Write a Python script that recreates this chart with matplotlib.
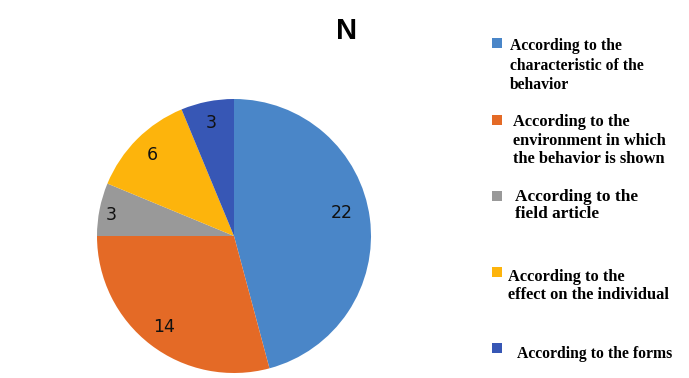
import matplotlib
matplotlib.use("Agg")
import matplotlib.pyplot as plt
from matplotlib.patches import Rectangle

# data
categories = [
    "According to the\ncharacteristic of the\nbehavior",
    "According to the\nenvironment in which\nthe behavior is shown",
    "According to the\nfield article",
    "According to the\neffect on the individual",
    "According to the forms",
]
counts = [22, 14, 3, 6, 3]
colors = ["#4a86c8", "#e46a26", "#999999", "#fdb40c", "#3757b5"]

W, H = 689, 378
fig = plt.figure(figsize=(W / 100, H / 100), dpi=100)

# pie: centre (234, 236) px, radius 137 px
cx, cy, r = 234, 236, 137
ax = fig.add_axes([(cx - r) / W, (H - cy - r) / H, 2 * r / W, 2 * r / H])
wedges, texts, autotexts = ax.pie(
    counts, colors=colors, startangle=90, counterclock=False,
    autopct=lambda p: "{:.0f}".format(p * sum(counts) / 100),
    pctdistance=0.84, wedgeprops=dict(linewidth=0),
    textprops=dict(fontsize=12.5, family="DejaVu Sans", color="#111111"))
autotexts[0].set_position((0.79, 0.17))
autotexts[2].set_position((-0.9, 0.15))
ax.set_xlim(-1, 1)
ax.set_ylim(-1, 1)
ax.axis("off")

fig.text(347 / W, 1 - 31 / H, "N", fontsize=21, fontweight="bold",
         family="Liberation Sans", ha="center", va="center")

# legend laid out by hand (irregular spacing and sizes in the original)
marker_y = [43, 120, 196, 272, 348]
text_x = [510, 513, 515, 508, 517]
text_y = [44, 120, 195, 275, 352]
sizes = [11.3, 11.8, 12.4, 11.8, 11.3]
spacing = [1.28, 1.22, 1.12, 1.17, 1.15]
for c, lab, my, tx, ty, fs, ls in zip(colors, categories, marker_y, text_x,
                                      text_y, sizes, spacing):
    fig.add_artist(Rectangle((492 / W, 1 - (my + 5) / H), 10 / W, 10 / H,
                             transform=fig.transFigure, color=c, lw=0))
    fig.text(tx / W, 1 - (ty - fs / 2) / H, lab, fontsize=fs, fontweight="bold",
             family="Liberation Serif", ha="left", va="top", linespacing=ls)

fig.savefig("out.png", dpi=100)
